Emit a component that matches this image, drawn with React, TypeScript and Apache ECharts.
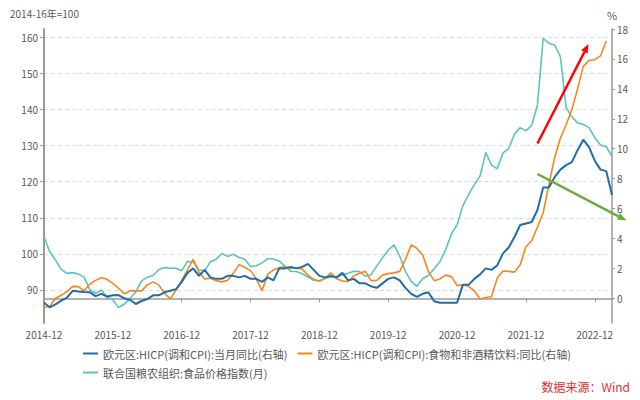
import React, { useEffect, useRef } from "react";
import * as echarts from "echarts";

// ---- data ----
const startYear = 2014;
const startMonth = 12;
const monthCount = 100; // 2014-12 .. 2023-03

const months: string[] = [];
for (let k = 0; k < monthCount; k++) {
  const t = startMonth - 1 + k;
  const y = startYear + Math.floor(t / 12);
  const m = (t % 12) + 1;
  months.push(`${y}-${m < 10 ? "0" + m : m}`);
}

const seriesNames = [
  "欧元区:HICP(调和CPI):当月同比(右轴)",
  "欧元区:HICP(调和CPI):食物和非酒精饮料:同比(右轴)",
  "联合国粮农组织:食品价格指数(月)",
];

// Euro area HICP y/y (%), right axis
const hicpYoY: number[] = [
  -0.3, -0.6, -0.4, -0.15, 0.05, 0.5, 0.45, 0.42, 0.4, 0.15, 0.3, 0.12, 0.2, 0.22, 0.0, -0.1, -0.38, -0.18, -0.05,
  0.2, 0.2, 0.4, 0.5, 0.6, 1.1, 1.7, 2.0, 1.5, 1.9, 1.4, 1.3, 1.3, 1.5, 1.5, 1.4, 1.5, 1.3,
  1.3, 1.1, 1.4, 1.2, 2.0, 2.0, 2.1, 2.0, 2.1, 2.3, 1.9, 1.5,
  1.4, 1.5, 1.4, 1.7, 1.2, 1.3, 1.0, 1.0, 0.8, 0.7, 1.0, 1.3,
  1.4, 1.2, 0.7, 0.3, 0.1, 0.3, 0.4, -0.2, -0.3, -0.3, -0.3, -0.3,
  0.9, 0.9, 1.3, 1.6, 2.0, 1.9, 2.2, 3.0, 3.4, 4.1, 4.9, 5.0,
  5.1, 5.9, 7.4, 7.4, 8.1, 8.6, 8.9, 9.1, 9.9, 10.6, 10.1, 9.2,
  8.6, 8.5, 6.9,
];

// Euro area HICP food & non-alcoholic beverages y/y (%), right axis
const foodYoY: (number | null)[] = [
  -0.6, -0.55, 0.0, 0.2, 0.45, 0.8, 0.78, 0.5, 0.95, 1.2, 1.38, 1.27, 1.0,
  0.67, 0.3, 0.5, 0.5, 0.5, 0.9, 1.1, 0.9, 0.35, -0.05, 0.55, 1.2,
  1.9, 2.6, 1.75, 1.3, 1.34, 1.18, 1.1, 1.2, 1.67, 2.25, 2.07, 1.85,
  1.3, 0.5, 1.6, 1.9, 2.05, 2.1, 2.0, 2.05, 1.95, 1.55, 1.27, 1.16,
  1.34, 1.7, 1.3, 1.15, 1.12, 1.5, 1.67, 1.8, 1.18, 1.2, 1.55, 1.65,
  1.7, 1.8, 2.6, 3.57, 3.35, 2.9, 1.8, 1.18, 1.29, 1.55, 1.45, 0.85,
  0.9, 0.8, 0.5, -0.05, 0.05, 0.1, 1.35, 1.83, 1.8, 1.75, 2.25, 3.45,
  3.85, 4.75, 5.7, 7.6, 9.4, 10.7, 11.6, 12.6, 14.0, 15.5, 15.9, 15.95,
  16.2, 17.2, null,
];

// FAO Food Price Index (2014-16 = 100), left axis
const faoIndex: number[] = [
  104.8, 100.6, 98.3, 95.7, 94.6, 94.8, 94.4, 93.5, 90.0, 89.1, 90.0, 88.0, 87.3,
  85.1, 86.1, 87.6, 89.5, 92.5, 93.5, 94.0, 95.6, 96.2, 96.0, 96.0, 95.3,
  97.9, 97.8, 95.6, 95.3, 97.8, 98.5, 100.1, 99.3, 99.9, 99.0, 98.5, 96.5,
  96.7, 97.5, 98.7, 98.6, 98.0, 96.6, 95.2, 95.1, 94.5, 93.6, 92.7, 92.5,
  93.2, 93.6, 93.5, 94.2, 94.6, 95.2, 95.1, 93.8, 94.2, 96.6, 98.9, 101.0,
  102.5, 99.4, 95.1, 92.4, 91.0, 93.1, 94.0, 95.9, 97.8, 101.2, 105.4, 108.1,
  113.3, 116.4, 119.2, 121.6, 128.1, 124.6, 123.6, 128.0, 129.2, 133.2, 135.0, 134.1,
  135.6, 141.2, 159.7, 158.4, 157.9, 154.7, 140.6, 138.0, 136.3, 135.9, 135.0, 132.2,
  130.2, 129.7, 127.0,
];

const leftRange = [80.84, 162.33];
const rightRange = [-1.65, 18];

const COLORS = ["#1f6ea8", "#f7861c", "#5cc3c0"];
const FONT = "'Noto Sans CJK SC', 'Noto Sans', sans-serif";
const LABEL = "#595959";
const AXIS = "#9a9a9a";

export default function App() {
  const ref = useRef<HTMLDivElement>(null);

  useEffect(() => {
    document.body.style.margin = "0";
    if (!ref.current) return;
    const chart = echarts.init(ref.current, null, { renderer: "svg" });

    const arrow = (x1: number, y1: number, x2: number, y2: number, color: string) => {
      const dx = x2 - x1;
      const dy = y2 - y1;
      const len = Math.sqrt(dx * dx + dy * dy);
      const ux = dx / len;
      const uy = dy / len;
      const hl = 9;
      const hw = 3.6;
      const bx = x2 - ux * hl;
      const by = y2 - uy * hl;
      return [
        {
          type: "line",
          shape: { x1, y1, x2: bx, y2: by },
          style: { stroke: color, lineWidth: 2.5 },
          z: 100,
        },
        {
          type: "polygon",
          shape: {
            points: [
              [x2, y2],
              [bx - uy * hw, by + ux * hw],
              [bx + uy * hw, by - ux * hw],
            ],
          },
          style: { fill: color },
          z: 100,
        },
      ];
    };

    chart.setOption({
      animation: false,
      textStyle: { fontFamily: FONT },
      grid: { left: 44, right: 28, top: 29, bottom: 77 },
      legend: [
        {
          data: [seriesNames[0], seriesNames[1]],
          left: 78,
          top: 343,
          icon: "rect",
          itemWidth: 15,
          itemHeight: 2,
          itemGap: 10,
          textStyle: { fontSize: 11, color: LABEL, fontFamily: FONT },
        },
        {
          data: [seriesNames[2]],
          left: 78,
          top: 362,
          icon: "rect",
          itemWidth: 15,
          itemHeight: 2,
          textStyle: { fontSize: 11, color: LABEL, fontFamily: FONT },
        },
      ],
      xAxis: {
        type: "category",
        data: months,
        boundaryGap: false,
        axisLine: { lineStyle: { color: AXIS, width: 1.5 } },
        axisTick: { interval: 11, length: 4, lineStyle: { color: AXIS } },
        axisLabel: { interval: 11, color: LABEL, fontSize: 10, margin: 6 },
        splitLine: { show: false },
      },
      yAxis: [
        {
          type: "value",
          position: "left",
          min: leftRange[0],
          max: leftRange[1],
          splitNumber: 8,
          minInterval: 10,
          maxInterval: 10,
          axisLine: { show: true, lineStyle: { color: AXIS, width: 2 } },
          axisTick: { show: true, length: 4, lineStyle: { color: AXIS } },
          axisLabel: {
            showMinLabel: false,
            showMaxLabel: false,
            color: LABEL,
            fontSize: 10,
            margin: 6,
          },
          splitLine: {
            show: true,
            showMinLine: false,
            showMaxLine: false,
            lineStyle: { color: "#dcdcdc", type: [4, 3] },
          },
        },
        {
          type: "value",
          position: "right",
          min: rightRange[0],
          max: rightRange[1],
          splitNumber: 10,
          minInterval: 2,
          maxInterval: 2,
          axisLine: { show: true, lineStyle: { color: AXIS, width: 1.5 } },
          axisTick: { show: true, length: 3, lineStyle: { color: AXIS } },
          axisLabel: {
            showMinLabel: false,
            color: LABEL,
            fontSize: 10,
            margin: 5,
          },
          splitLine: { show: false },
        },
      ],
      series: [
        {
          name: seriesNames[2],
          type: "line",
          yAxisIndex: 0,
          data: faoIndex,
          showSymbol: false,
          color: COLORS[2],
          lineStyle: { width: 1.6, color: COLORS[2] },
        },
        {
          name: seriesNames[1],
          type: "line",
          yAxisIndex: 1,
          data: foodYoY,
          showSymbol: false,
          color: COLORS[1],
          lineStyle: { width: 1.6, color: COLORS[1] },
        },
        {
          name: seriesNames[0],
          type: "line",
          yAxisIndex: 1,
          data: hicpYoY,
          showSymbol: false,
          color: COLORS[0],
          lineStyle: { width: 2, color: COLORS[0] },
        },
      ],
      graphic: [
        {
          type: "text",
          left: 10,
          top: 8,
          style: { text: "2014-16年=100", fontSize: 10, fill: LABEL, fontFamily: FONT },
        },
        {
          type: "text",
          x: 612,
          y: 15,
          style: {
            text: "%",
            fontSize: 11,
            fill: LABEL,
            align: "center",
            verticalAlign: "middle",
            fontFamily: FONT,
          },
        },
        {
          type: "text",
          x: 630,
          y: 386,
          style: {
            text: "数据来源：Wind",
            fontSize: 12,
            fill: "#e52d2d",
            align: "right",
            verticalAlign: "middle",
            fontFamily: FONT,
          },
        },
        ...arrow(537.5, 143.5, 588.5, 44, "#ff0000"),
        ...arrow(537.5, 174, 626.5, 220.5, "#6aab3c"),
      ],
    });

    return () => chart.dispose();
  }, []);

  return <div ref={ref} style={{ width: 640, height: 400 }} />;
}
